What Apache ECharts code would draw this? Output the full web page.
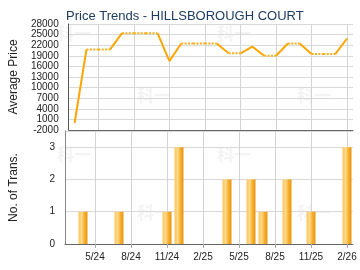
<!DOCTYPE html>
<html>
<head>
<meta charset="utf-8">
<script src="https://cdn.jsdelivr.net/npm/echarts@6/dist/echarts.min.js"></script>
<style>
  html, body { margin: 0; padding: 0; background: #fff; }
  #chart { width: 360px; height: 270px; }
</style>
</head>
<body>
<div id="chart"></div>
<script>
// months shown on the x axis (one category per month)
const months = ["3/24", "4/24", "5/24", "6/24", "7/24", "8/24", "9/24", "10/24", "11/24", "12/24",
  "1/25", "2/25", "3/25", "4/25", "5/25", "6/25", "7/25", "8/25", "9/25", "10/25", "11/25", "12/25",
  "1/26", "2/26"];
// average price as drawn for every month (flat where no trade happened)
const avgPrice = [0, 20800, 20800, 20800, 25400, 25400, 25400, 25400, 17500, 22500,
  22500, 22500, 22500, 19700, 19700, 21600, 19000, 19000, 22500, 22500, 19500, 19500,
  19500, 23900];
// number of transactions per month
const trans = [0, 1, 0, 0, 1, 0, 0, 0, 1, 3, 0, 0, 0, 2, 0, 2, 1, 0, 2, 0, 1, 0, 0, 3];
const priceTicks = { min: -2000, max: 28000, step: 3000 };

const font = "Liberation Sans, Arial, sans-serif";

// solid segment when the month had trades, dotted when the price was carried over
const solidData = [];
const dottedData = [];
for (let i = 1; i < months.length; i++) {
  const target = trans[i] > 0 ? solidData : dottedData;
  target.push([i - 1, avgPrice[i - 1]], [i, avgPrice[i]], [i, "-"]);
}

const showLabel = (idx) => idx % 3 === 2;

const chart = echarts.init(document.getElementById("chart"));

const watermark = (x, y) => ({
  type: "text", left: x, top: y, silent: true, z: 0,
  style: { text: "科一", fill: "#f3f3f3", font: "bold 17px 'Noto Sans CJK SC'" }
});

const option = {
  animation: false,
  title: {
    text: "Price Trends - HILLSBOROUGH COURT",
    left: 61, top: 5,
    textStyle: { color: "#1d3c64", fontSize: 13, fontWeight: "normal", fontFamily: font }
  },
  graphic: [
    watermark(57, 25), watermark(137, 87), watermark(217, 25), watermark(297, 87),
    watermark(57, 146), watermark(137, 204), watermark(217, 146), watermark(297, 204)
  ],
  grid: [
    { left: 65, top: 24, width: 288, height: 106 },
    { left: 65, top: 131, width: 288, height: 113 }
  ],
  xAxis: [
    {
      gridIndex: 0, type: "category", data: months, boundaryGap: true,
      axisLine: { onZero: false, lineStyle: { color: "#666", width: 1 } },
      axisTick: { show: false },
      axisLabel: { show: false },
      splitLine: { show: true, interval: showLabel, alignWithLabel: true, lineStyle: { color: "#d4d4d4" } }
    },
    {
      gridIndex: 1, type: "category", data: months, boundaryGap: true,
      axisLine: { onZero: false, lineStyle: { color: "#666", width: 1 } },
      axisTick: { show: true, interval: showLabel, alignWithLabel: true, length: 4, lineStyle: { color: "#aaa" } },
      axisLabel: { interval: showLabel, color: "#222", fontSize: 10, fontFamily: font, margin: 8 },
      splitLine: { show: true, interval: showLabel, alignWithLabel: true, lineStyle: { color: "#d4d4d4" } }
    }
  ],
  yAxis: [
    {
      gridIndex: 0, type: "value",
      min: priceTicks.min, max: priceTicks.max, interval: priceTicks.step,
      name: "Average Price", nameLocation: "middle", nameGap: 45,
      nameTextStyle: { color: "#222", fontSize: 12, fontFamily: font },
      axisLine: { show: true, lineStyle: { color: "#555" } },
      axisTick: { show: false },
      axisLabel: { color: "#222", fontSize: 10, fontFamily: font, margin: 10, formatter: (v) => String(v) },
      splitLine: { lineStyle: { color: "#d9d9d9" } }
    },
    {
      gridIndex: 1, type: "value", min: 0, max: 3.5, interval: 1,
      name: "No. of Trans.", nameLocation: "middle", nameGap: 45,
      nameTextStyle: { color: "#222", fontSize: 12, fontFamily: font },
      axisLine: { show: true, lineStyle: { color: "#888" } },
      axisTick: { show: false },
      axisLabel: { color: "#222", fontSize: 10, fontFamily: font, margin: 10, showMaxLabel: false },
      splitLine: { lineStyle: { color: "#d9d9d9" } }
    }
  ],
  series: [
    {
      name: "price", type: "line", xAxisIndex: 0, yAxisIndex: 0,
      data: solidData, symbol: "none", connectNulls: false,
      lineStyle: { color: "#ffa500", width: 2 }
    },
    {
      name: "carried", type: "line", xAxisIndex: 0, yAxisIndex: 0,
      data: dottedData, symbol: "none", connectNulls: false,
      lineStyle: { color: "#ffae1a", width: 2, type: [2, 1.4] }
    },
    {
      name: "trans", type: "bar", xAxisIndex: 1, yAxisIndex: 1,
      data: trans, barWidth: 9,
      itemStyle: {
        color: new echarts.graphic.LinearGradient(0, 0, 1, 0, [
          { offset: 0, color: "#fcc55a" },
          { offset: 0.35, color: "#ffd98a" },
          { offset: 0.7, color: "#f5ab2a" },
          { offset: 1, color: "#e8960c" }
        ])
      }
    }
  ]
};

chart.setOption(option);
</script>
</body>
</html>
